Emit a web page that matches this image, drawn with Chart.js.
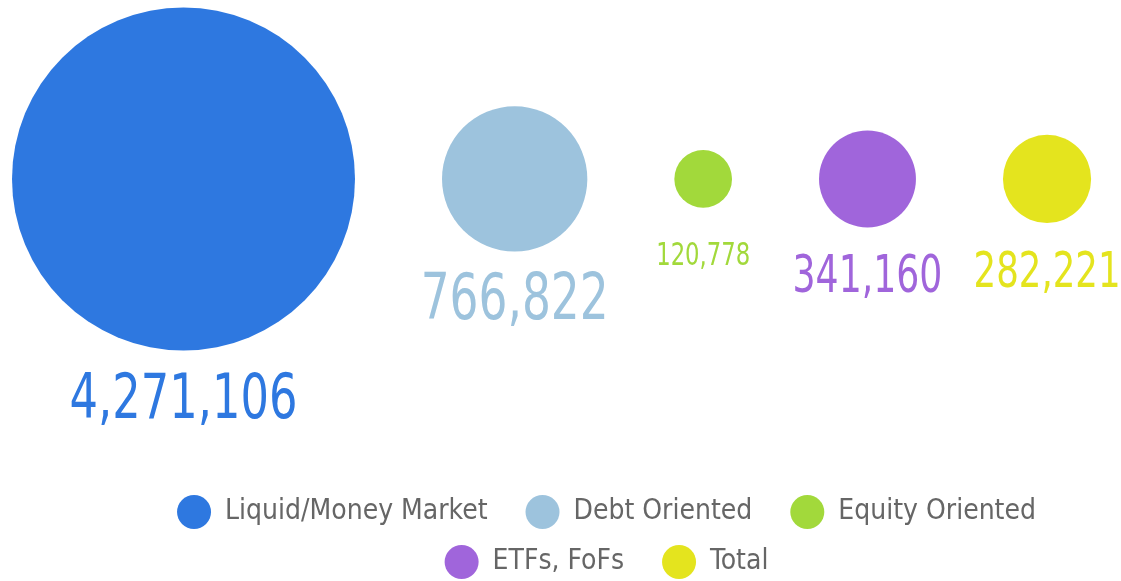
<!DOCTYPE html>
<html>
<head>
<meta charset="utf-8">
<script src="https://cdn.jsdelivr.net/npm/chart.js@4/dist/chart.umd.min.js"></script>
<style>
  body { margin: 0; background: #fff; }
  #wrap { width: 1121px; height: 581px; position: relative; }
</style>
</head>
<body>
<div id="wrap"><canvas id="myChart"></canvas></div>
<script>
// data
var categories = ['Liquid/Money Market', 'Debt Oriented', 'Equity Oriented', 'ETFs, FoFs', 'Total'];
var values = [4271106, 766822, 120778, 341160, 282221];
var colors = ['#2E78E0', '#9DC3DD', '#A2D93B', '#A065DB', '#E4E41E'];

// style
var FONT = "'DejaVu Sans Condensed', 'Liberation Sans Narrow', sans-serif";
var labelSizes = [63, 64, 32, 51, 50];
var labelDrop = [68, 67, 57, 65, 64];   // baseline below bubble edge
var condense = 0.79;                     // squeeze value labels sideways
var maxRadius = 171.5;
var bubbleGap = 87;
var startX = 12;
var padLeft = 108;
var W = 1121;

// keep the bubble radius from shrinking the plot area
Chart.BubbleController.prototype.getMaxOverflow = function () { return false; };

function radiusOf(v) {
    return maxRadius * Math.sqrt(v / Math.max.apply(null, values));
}

// lay the bubbles out in a row, edge to edge with a fixed gap
var points = [];
var cx = startX;
values.forEach(function (v, i) {
    var r = radiusOf(v);
    if (i === 0) cx += r;
    else cx += radiusOf(values[i - 1]) + bubbleGap + r;
    points.push({x: cx, y: 0, r: r});
});

var datasets = categories.map(function (c, i) {
    return {
        label: c,
        data: [points[i]],
        backgroundColor: colors[i],
        borderWidth: 0,
        hoverBorderWidth: 0,
        clip: false
    };
});

// value labels under each bubble
var valueLabels = {
    id: 'valueLabels',
    afterDatasetsDraw: function (chart) {
        var ctx = chart.ctx;
        ctx.save();
        ctx.textAlign = 'center';
        ctx.textBaseline = 'alphabetic';
        chart.data.datasets.forEach(function (ds, i) {
            var el = chart.getDatasetMeta(i).data[0];
            if (!el) return;
            var r = ds.data[0].r;
            var txt = values[i].toLocaleString('en-US');
            ctx.font = labelSizes[i] + 'px ' + FONT;
            ctx.fillStyle = colors[i];
            var w = ctx.measureText(txt).width * condense;
            ctx.fillText(txt, el.x, el.y + r + labelDrop[i], w);
        });
        ctx.restore();
    }
};

var ctx = document.getElementById('myChart').getContext('2d');
var myChart = new Chart(ctx, {
    type: 'bubble',
    data: {datasets: datasets},
    options: {
        responsive: true,
        maintainAspectRatio: false,
        animation: false,
        layout: {padding: {left: padLeft, right: 0, top: 0, bottom: -5}},
        scales: {
            x: {type: 'linear', display: false, min: padLeft, max: W},
            y: {type: 'linear', display: false, min: -1.66, max: 1}
        },
        plugins: {
            tooltip: {enabled: false},
            legend: {
                position: 'bottom',
                labels: {
                    usePointStyle: true,
                    pointStyle: 'circle',
                    pointStyleWidth: 34,
                    boxHeight: 24,
                    padding: 22,
                    color: '#666',
                    font: {family: FONT, size: 28},
                    generateLabels: function (chart) {
                        return chart.data.datasets.map(function (ds, i) {
                            return {
                                text: ds.label + '  ',
                                fillStyle: colors[i],
                                strokeStyle: colors[i],
                                lineWidth: 0,
                                pointStyle: 'circle',
                                fontColor: '#666',
                                hidden: false,
                                datasetIndex: i
                            };
                        });
                    }
                }
            }
        }
    },
    plugins: [valueLabels]
});
</script>
</body>
</html>
